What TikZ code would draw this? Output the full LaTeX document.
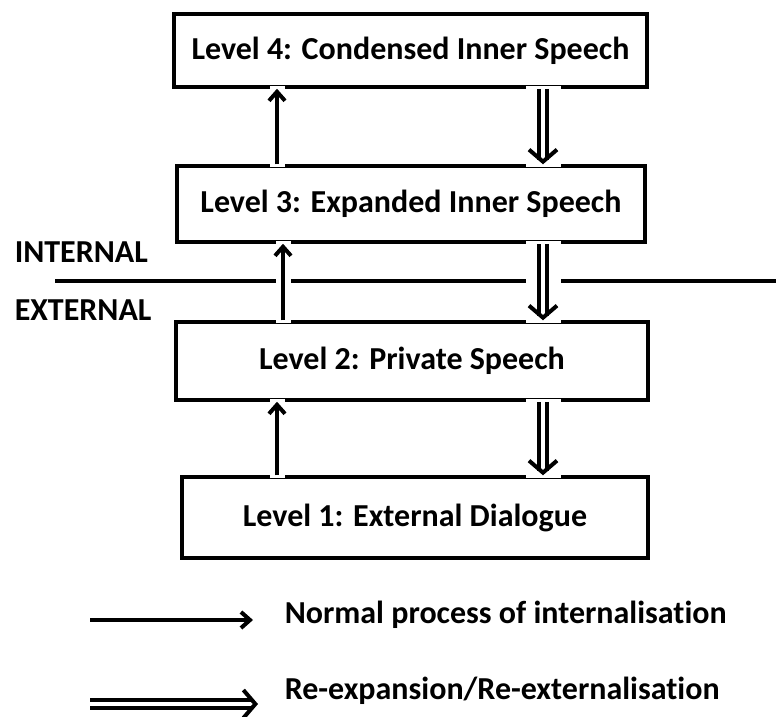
\documentclass[tikz,border=0pt]{standalone}
\usepackage{fontspec}
\setmainfont{Carlito}[Ligatures={NoCommon}]
\usetikzlibrary{arrows.meta, positioning}

\begin{document}
\begin{tikzpicture}[x=1pt, y=-1pt, line width=3.5pt,
    levelbox/.style={draw, inner sep=0pt, font=\fontsize{32}{36}\selectfont\bfseries},
    sidelabel/.style={inner sep=0pt, anchor=base west, font=\fontsize{32}{36}\selectfont\bfseries},
    inward/.style={-{Straight Barb[length=9pt, width=16pt]}, line width=4pt,
        preaction={draw=white, line width=15pt, -, shorten <=-3pt, shorten >=-3pt}},
    outward/.style={-{Straight Barb[length=12pt, width=28pt]}, double, double distance=4pt, line width=4pt,
        preaction={draw=white, line width=35pt, -, shorten <=-3pt, shorten >=-3pt}}]
    \useasboundingbox (0,0) rectangle (776,716);

    % levels
    \node[levelbox, minimum width=473pt, minimum height=73pt] (Lvl4) at (410.5,50.5) {Level 4: Condensed Inner Speech};
    \node[levelbox, minimum width=468pt, minimum height=76pt] (Lvl3) at (411,204) {Level 3: Expanded Inner Speech};
    \node[levelbox, minimum width=472pt, minimum height=78pt] (Lvl2) at (412,361) {Level 2: Private Speech};
    \node[levelbox, minimum width=466pt, minimum height=81pt] (Lvl1) at (415,517.5) {Level 1: External Dialogue};

    % internal / external divide
    \coordinate (DivL) at (55,281);
    \coordinate (DivR) at (776,281);
    \draw (DivL) -- (DivR);
    \node[sidelabel] (Internal) at (13,262) {INTERNAL};
    \node[sidelabel] (External) at (13,320) {EXTERNAL};

    % columns of the arrows
    \coordinate (ColUp) at (277,0);
    \coordinate (ColMid) at (283,0);
    \coordinate (ColDown) at (543,0);

    \draw[inward] (Lvl1.north -| ColUp) -- (Lvl2.south -| ColUp);
    \draw[inward] (Lvl2.north -| ColMid) -- (Lvl3.south -| ColMid);
    \draw[inward] (Lvl3.north -| ColUp) -- (Lvl4.south -| ColUp);

    \draw[outward] (Lvl4.south -| ColDown) -- (Lvl3.north -| ColDown);
    \draw[outward] (Lvl3.south -| ColDown) -- (Lvl2.north -| ColDown);
    \draw[outward] (Lvl2.south -| ColDown) -- (Lvl1.north -| ColDown);

    % key
    \coordinate (KeyA) at (90,620);
    \coordinate (KeyAend) at (253,620);
    \coordinate (KeyB) at (90,704);
    \coordinate (KeyBend) at (258,704);
    \draw[inward] (KeyA) -- (KeyAend);
    \draw[outward] (KeyB) -- (KeyBend);
    \node[sidelabel] (KeyAtext) at (283,623) {Normal process of internalisation};
    \node[sidelabel] (KeyBtext) at (283,699) {Re-expansion/Re-externalisation};
\end{tikzpicture}
\end{document}
